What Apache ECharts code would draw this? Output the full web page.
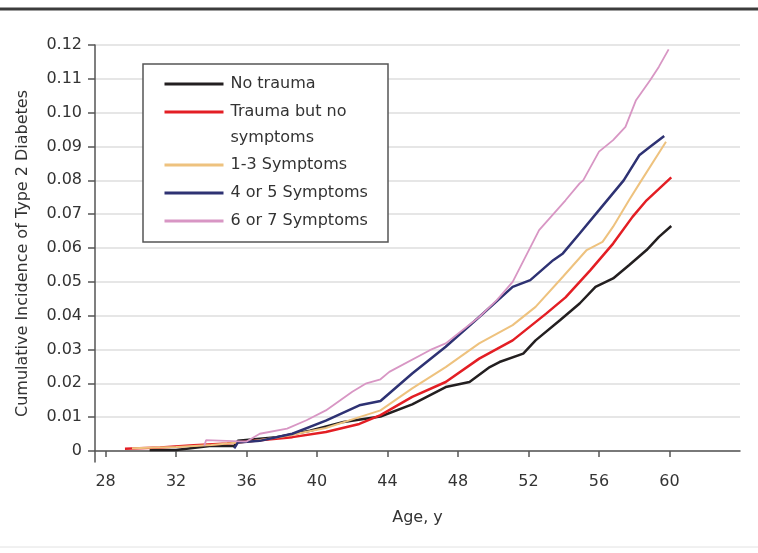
<!DOCTYPE html>
<html>
<head>
<meta charset="utf-8">
<script src="https://cdn.jsdelivr.net/npm/echarts@6/dist/echarts.min.js"></script>
<style>
  html, body { margin: 0; padding: 0; background: #fff; }
  #chart { width: 758px; height: 553px; }
</style>
</head>
<body>
<div id="chart"></div>
<script>
// tick labels
const xTickLabels = ['28', '32', '36', '40', '44', '48', '52', '56', '60']
const yTickLabels = ['0', '0.01', '0.02', '0.03', '0.04', '0.05', '0.06', '0.07', '0.08', '0.09', '0.10', '0.11', '0.12']

const seriesNames = ['No trauma', 'Trauma but no symptoms', '1-3 Symptoms', '4 or 5 Symptoms', '6 or 7 Symptoms']

// [age, cumulative incidence]
const noTrauma = [
  [30.5, 0.0003], [32.0, 0.0003], [33.9, 0.0015], [35.3, 0.0015], [35.5, 0.003], [37.7, 0.0041],
  [39.6, 0.006], [41.5, 0.0086], [43.6, 0.0102], [45.4, 0.0138], [47.3, 0.0189], [48.65, 0.0204],
  [49.8, 0.0248], [50.35, 0.0263], [51.7, 0.0288], [52.4, 0.0327], [53.8, 0.0387], [54.9, 0.0436],
  [55.8, 0.0485], [56.8, 0.051], [57.7, 0.0549], [58.7, 0.0594], [59.4, 0.0633], [60.1, 0.0665]
]
const traumaNoSymptoms = [
  [29.1, 0.0007], [31.1, 0.001], [33.0, 0.0017], [34.9, 0.0022], [36.75, 0.0032], [38.6, 0.0041],
  [40.5, 0.0056], [42.4, 0.008], [43.6, 0.0106], [45.4, 0.016], [47.3, 0.0204], [49.2, 0.0273],
  [51.1, 0.0327], [53.0, 0.0406], [54.1, 0.0454], [55.5, 0.0534], [56.8, 0.0613], [57.9, 0.0692],
  [58.7, 0.0741], [60.1, 0.0809]
]
const symptoms13 = [
  [29.5, 0.0008], [32.0, 0.0012], [34.0, 0.0018], [36.0, 0.0027], [38.0, 0.0042], [40.5, 0.0068],
  [42.4, 0.01], [43.6, 0.012], [45.4, 0.0185], [47.3, 0.0248], [49.2, 0.0318], [51.1, 0.0372],
  [52.4, 0.0426], [53.95, 0.0515], [55.3, 0.0594], [56.2, 0.0618], [56.8, 0.0663], [57.7, 0.0741],
  [58.3, 0.0791], [59.8, 0.0914]
]
const symptoms45 = [
  [35.3, 0.0008], [35.5, 0.0025], [36.75, 0.003], [38.6, 0.0051], [40.5, 0.009], [42.4, 0.0135],
  [43.6, 0.0148], [45.4, 0.0229], [47.3, 0.0308], [49.2, 0.0396], [51.1, 0.0485], [52.1, 0.0505],
  [53.4, 0.0564], [53.95, 0.0584], [54.9, 0.0643], [56.0, 0.0712], [57.4, 0.08], [58.3, 0.0875],
  [58.9, 0.0899], [59.7, 0.0931]
]
const symptoms67 = [
  [33.6, 0.0015], [33.7, 0.0032], [36.0, 0.0028], [36.75, 0.0051], [38.3, 0.0066], [39.4, 0.0091],
  [40.5, 0.012], [42.0, 0.0175], [42.8, 0.02], [43.6, 0.0212], [44.1, 0.0234], [46.4, 0.0298],
  [47.3, 0.0318], [49.2, 0.0396], [50.2, 0.0446], [51.1, 0.05], [52.6, 0.0653], [54.1, 0.0741],
  [54.9, 0.0791], [55.1, 0.08], [56.0, 0.0885], [56.8, 0.0919], [57.5, 0.0958], [58.1, 0.1037],
  [58.9, 0.1096], [59.4, 0.1136], [59.95, 0.1187]
]

const seriesData = [noTrauma, traumaNoSymptoms, symptoms13, symptoms45, symptoms67]
const colors = ['#231f20', '#e31e24', '#eec27e', '#2e3273', '#d896c4']
const widths = [2.5, 2.5, 2, 2.5, 1.8]

const font = 'DejaVu Sans'
const xTickValues = xTickLabels.map(Number)
const yTickValues = yTickLabels.map(Number)

const chart = echarts.init(document.getElementById('chart'), null, { renderer: 'canvas' })

// one legend per row so the wrapped label can keep its line on the first row
const legendTops = [71, 73, 152, 180, 208]
const legends = seriesNames.map((name, i) => {
  const wrapped = i === 1
  return {
    data: [name],
    orient: 'vertical',
    left: 163,
    top: legendTops[i],
    padding: 0,
    itemWidth: 59,
    itemHeight: 14,
    selectedMode: false,
    lineStyle: { width: 3 },
    itemStyle: { opacity: 0 },
    formatter: n => wrapped ? '\nTrauma but no\nsymptoms' : n,
    textStyle: {
      fontFamily: font, fontSize: 16, color: '#333', lineHeight: 26,
      padding: [0, 0, 0, 2]
    },
    z: 5
  }
})

chart.setOption({
  animation: false,
  backgroundColor: '#fff',
  grid: { left: 95, right: 18, top: 45, bottom: 91 },
  graphic: [
    { type: 'line', shape: { x1: 0, y1: 9, x2: 758, y2: 9 }, style: { stroke: '#3c3c3c', lineWidth: 3 }, silent: true },
    { type: 'line', shape: { x1: 0, y1: 547, x2: 758, y2: 547 }, style: { stroke: '#e2e2e2', lineWidth: 1 }, silent: true },
    { type: 'rect', shape: { x: 143, y: 64, width: 245, height: 178 }, style: { fill: '#fff', stroke: '#555', lineWidth: 1.5 }, z: 4, silent: true }
  ],
  legend: legends,
  xAxis: {
    type: 'value',
    min: 27.4,
    max: 64,
    name: 'Age, y',
    nameLocation: 'middle',
    nameGap: 48,
    nameTextStyle: { fontFamily: font, fontSize: 16, color: '#333' },
    axisLine: { lineStyle: { color: '#555', width: 1.5 } },
    axisTick: { length: 6, lineStyle: { color: '#555', width: 1.5 }, customValues: xTickValues },
    axisLabel: { customValues: xTickValues, margin: 12, fontFamily: font, fontSize: 16, color: '#333' },
    splitLine: { show: false }
  },
  yAxis: {
    type: 'value',
    min: -0.00325,
    max: 0.12,
    name: 'Cumulative Incidence of Type 2 Diabetes',
    nameLocation: 'middle',
    nameGap: 64,
    nameTextStyle: { fontFamily: font, fontSize: 16, color: '#333' },
    axisLine: { show: true, lineStyle: { color: '#555', width: 1.5 } },
    axisTick: { show: true, length: 7, lineStyle: { color: '#555', width: 1.5 }, customValues: yTickValues },
    axisLabel: {
      customValues: yTickValues,
      margin: 13,
      fontFamily: font, fontSize: 16, color: '#333',
      formatter: v => {
        const i = yTickValues.findIndex(t => Math.abs(t - v) < 1e-9)
        return i >= 0 ? yTickLabels[i] : ''
      }
    },
    splitLine: { show: true, lineStyle: { color: '#dedede', width: 1.5 } }
  },
  series: seriesNames.map((name, i) => ({
    name,
    type: 'line',
    data: seriesData[i],
    symbol: 'none',
    color: colors[i],
    lineStyle: { width: widths[i], color: colors[i] },
    z: 2
  }))
})
</script>
</body>
</html>
